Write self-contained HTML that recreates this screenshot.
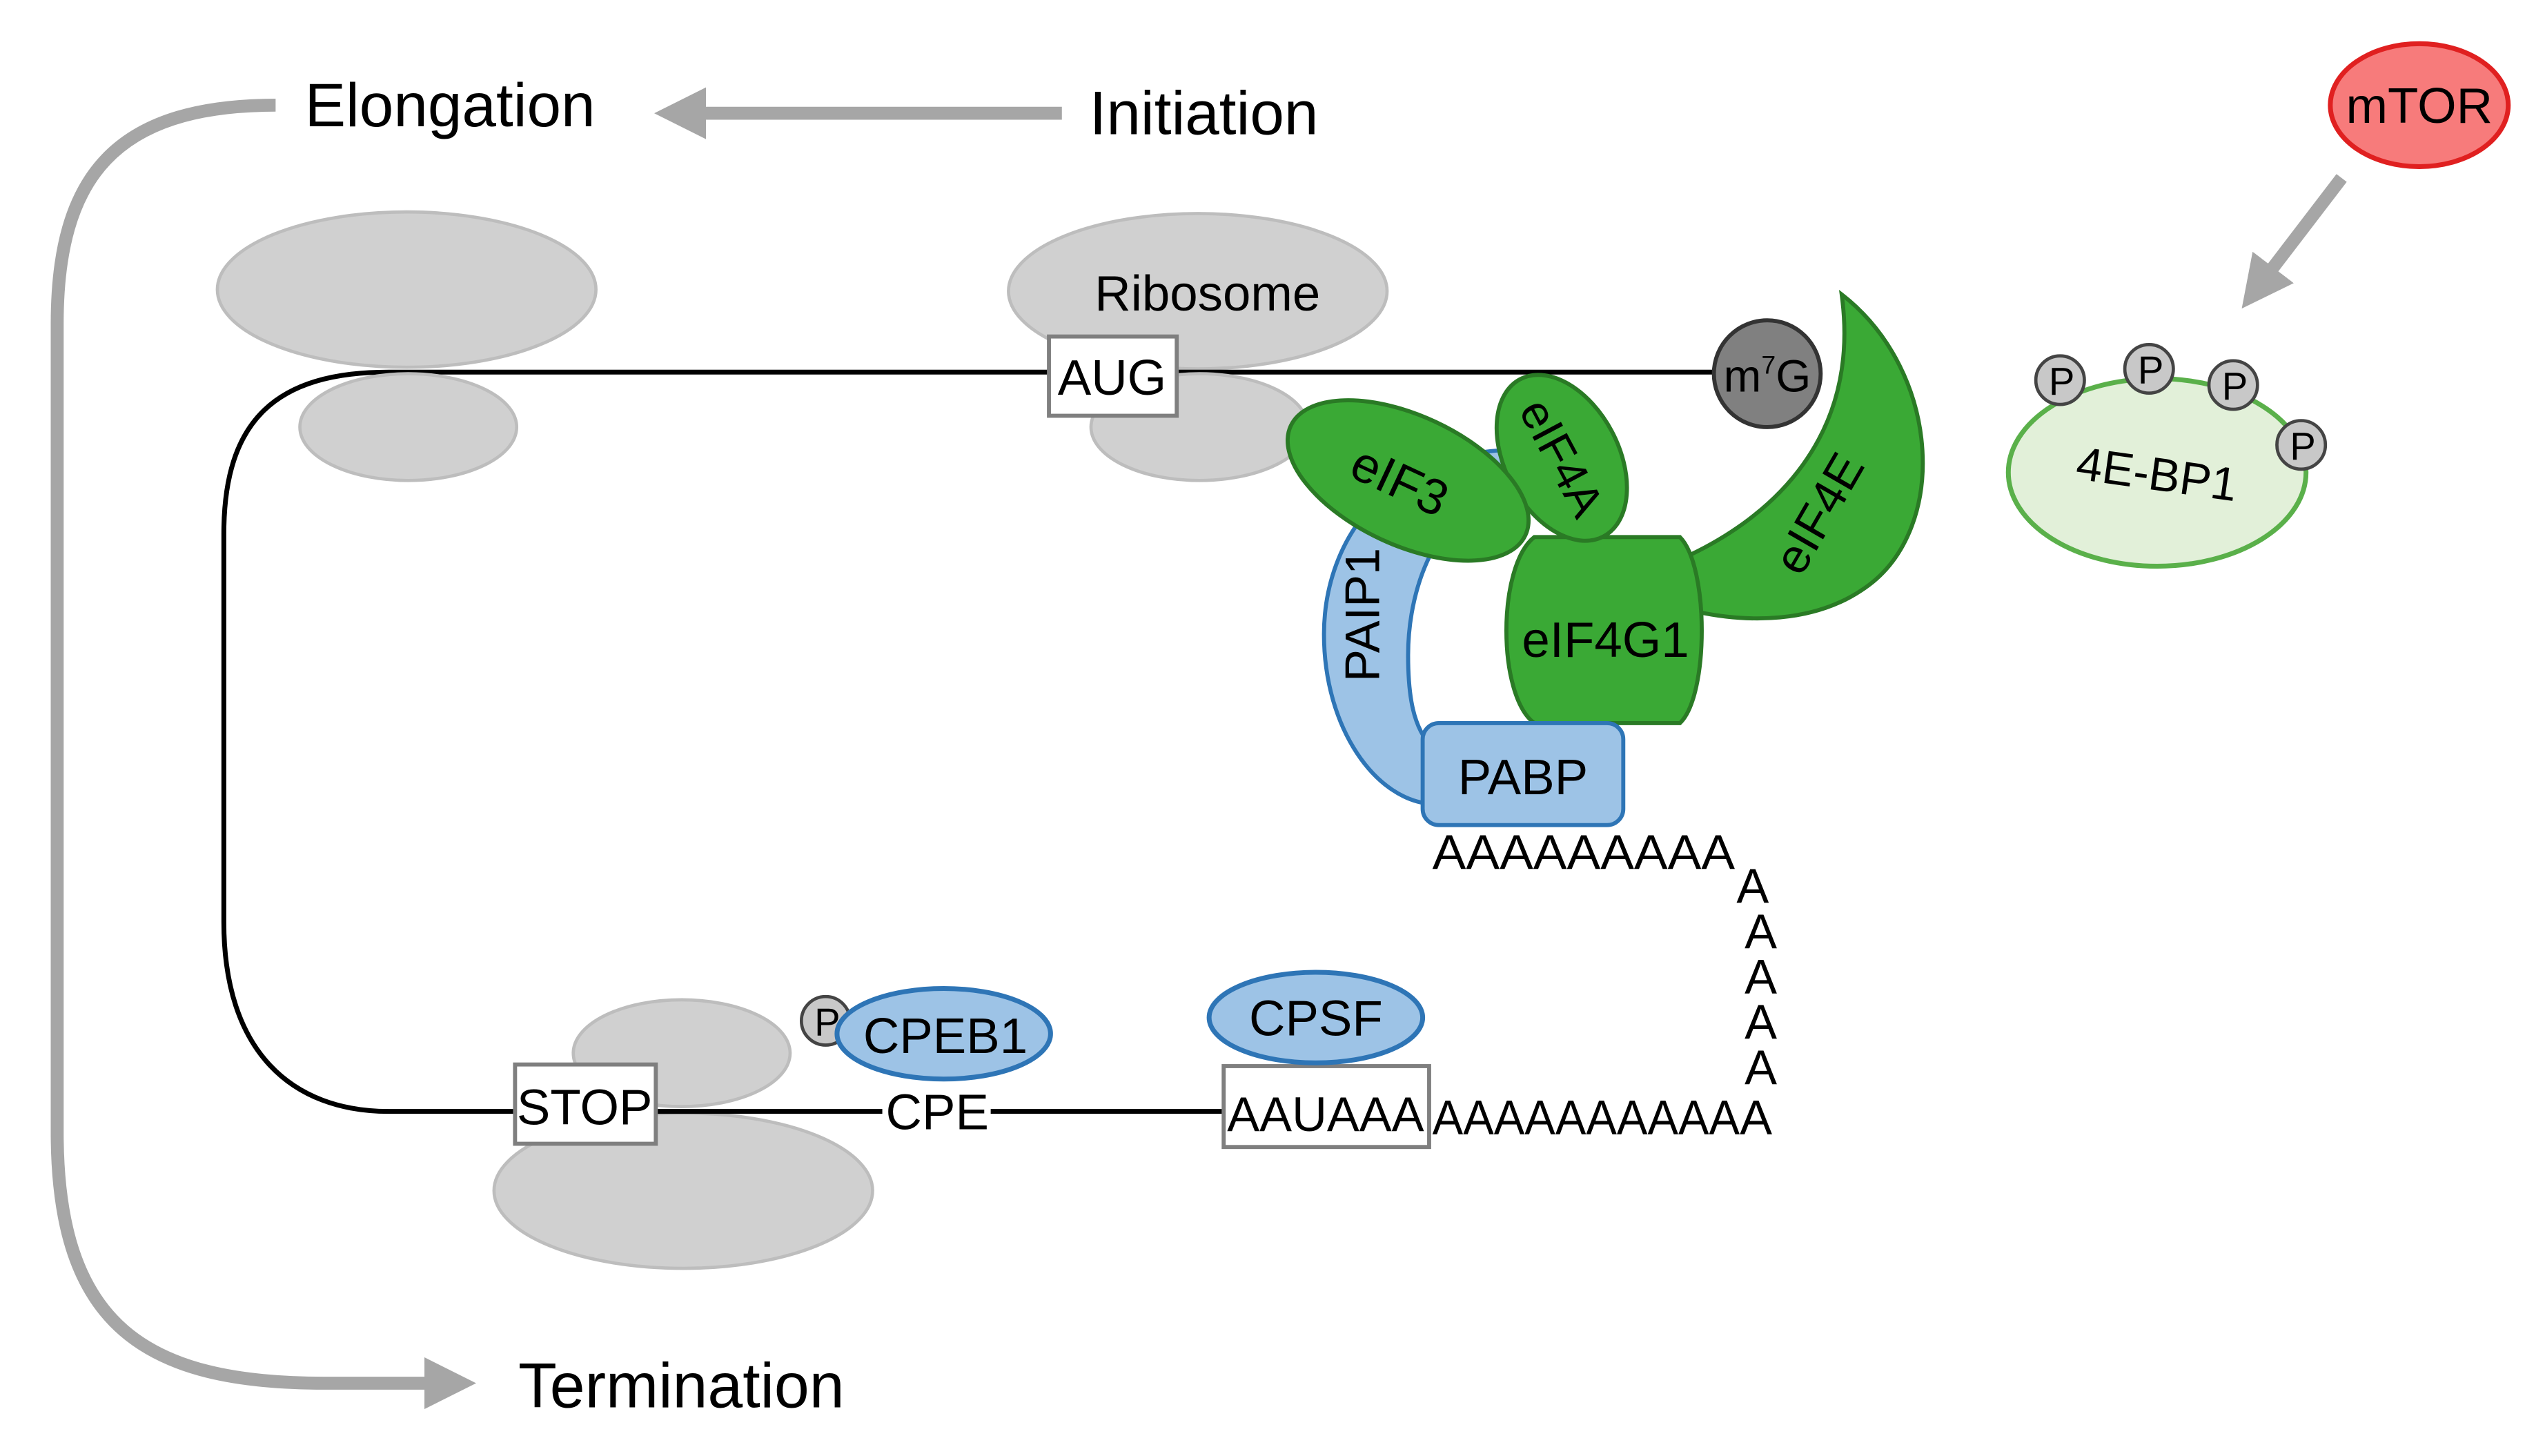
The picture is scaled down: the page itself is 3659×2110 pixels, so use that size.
<!DOCTYPE html>
<html><head><meta charset="utf-8"><style>
html,body{margin:0;padding:0;background:#fff;}
svg{display:block;}
text{font-family:"Liberation Sans",sans-serif;fill:#000;}
</style></head><body>
<svg width="3659" height="2110" viewBox="0 0 1560 900" xmlns="http://www.w3.org/2000/svg">
<defs>
<marker id="ah" markerWidth="4" markerHeight="4" refX="2" refY="2" orient="auto" markerUnits="strokeWidth">
<path d="M0,0 L4,2 L0,4 Z" fill="#a6a6a6"/></marker>
</defs>
<rect width="1560" height="900" fill="#fff"/>
<line x1="656" y1="70" x2="420" y2="70" stroke="#a6a6a6" stroke-width="8" marker-end="url(#ah)"/>
<path d="M170,65 C70,65 35,110 35,200 L35,700 C35,820 90,855 200,855 L278,855" fill="none" stroke="#a6a6a6" stroke-width="8" marker-end="url(#ah)"/>
<line x1="1447" y1="110" x2="1395" y2="178" stroke="#a6a6a6" stroke-width="8" marker-end="url(#ah)"/>
<text x="188" y="78" font-size="38">Elongation</text>
<text x="673" y="83" font-size="38">Initiation</text>
<text x="320" y="870" font-size="39">Termination</text>
<ellipse cx="1495" cy="65" rx="55" ry="38" fill="#f77b7b" stroke="#e02020" stroke-width="3"/>
<text x="1495" y="76" font-size="31" text-anchor="middle">mTOR</text>
<ellipse cx="1333" cy="292" rx="92" ry="58" fill="#e2f0d9" stroke="#5ab04a" stroke-width="3"/>
<text x="1333" y="303" font-size="29" text-anchor="middle" transform="rotate(8 1333 292)">4E-BP1</text>
<g fill="#c8c8c8" stroke="#444" stroke-width="2">
<circle cx="1273" cy="235" r="15"/><circle cx="1328" cy="228" r="15"/><circle cx="1380" cy="238" r="15"/><circle cx="1422" cy="275" r="15"/>
<circle cx="510" cy="631" r="15"/></g>
<g font-size="24" text-anchor="middle">
<text x="1274" y="244">P</text><text x="1329" y="237">P</text><text x="1381" y="247">P</text><text x="1423" y="284">P</text><text x="511" y="640">P</text></g>
<g fill="#d0d0d0" stroke="#bdbdbd" stroke-width="2">
<ellipse cx="251" cy="179" rx="117" ry="48"/>
<ellipse cx="740" cy="180" rx="117" ry="48"/>
<ellipse cx="422" cy="736" rx="117" ry="48"/>
</g>
<path d="M1062,230 L240,230 C170,230 138,260 138,330 L138,570 C138,650 180,687 240,687 L545,687 M612,687 L757,687" fill="none" stroke="#000" stroke-width="3"/>
<g fill="#d0d0d0" stroke="#bdbdbd" stroke-width="2">
<ellipse cx="252" cy="264" rx="67" ry="33"/>
<ellipse cx="741" cy="264" rx="67" ry="33"/>
<ellipse cx="421" cy="651" rx="67" ry="33"/>
</g>
<text x="746" y="192" font-size="31" text-anchor="middle">Ribosome</text>
<g fill="#fff" stroke="#7f7f7f" stroke-width="2.5">
<rect x="648" y="208" width="79" height="49"/>
<rect x="318" y="658" width="87" height="49"/>
<rect x="756" y="659" width="127" height="50"/>
</g>
<text x="687" y="244" font-size="31" text-anchor="middle">AUG</text>
<text x="361" y="695" font-size="31" text-anchor="middle">STOP</text>
<text x="819" y="699" font-size="30" text-anchor="middle">AAUAAA</text>
<text x="579" y="698" font-size="31" text-anchor="middle">CPE</text>
<ellipse cx="813" cy="629" rx="66" ry="28" fill="#9dc3e6" stroke="#2e75b6" stroke-width="3"/>
<text x="813" y="640" font-size="31" text-anchor="middle">CPSF</text>
<ellipse cx="583" cy="639" rx="66" ry="28" fill="#9dc3e6" stroke="#2e75b6" stroke-width="3"/>
<text x="584" y="651" font-size="31" text-anchor="middle">CPEB1</text>
<g font-size="30">
<text x="885" y="537" textLength="187" lengthAdjust="spacingAndGlyphs">AAAAAAAAA</text>
<text x="885" y="701" textLength="190" lengthAdjust="spacingAndGlyphs">AAAAAAAAAA</text>
<g text-anchor="middle">
<text x="1083" y="558">A</text><text x="1088" y="586">A</text><text x="1088" y="614">A</text><text x="1088" y="642">A</text><text x="1088" y="670">A</text><text x="1085" y="701">A</text></g>
</g>
<circle cx="1092" cy="231" r="33" fill="#808080" stroke="#333" stroke-width="2.5"/>
<text x="1092" y="242" font-size="28" text-anchor="middle">m<tspan font-size="16" dy="-11">7</tspan><tspan dy="11">G</tspan></text>
<path d="M935,278 C850,280 818,340 818,392 C818,450 850,495 885,497 L885,462 C873,450 870,430 870,405 C870,360 890,310 935,300 Z" fill="#9dc3e6" stroke="#2e75b6" stroke-width="2.5"/>
<text x="862" y="390" font-size="30" text-anchor="middle" transform="rotate(-90 852 390)">PAIP1</text>
<path d="M1138,182 C1200,230 1205,330 1150,365 C1120,385 1080,385 1048,378 L1040,345 C1095,320 1150,270 1138,182 Z" fill="#3aa935" stroke="#2a7a25" stroke-width="2.5"/>
<text x="1125" y="327" font-size="30" text-anchor="middle" transform="rotate(-60 1125 318)">eIF4E</text>
<path d="M948,332 L1038,332 C1056,350 1056,430 1038,447 L948,447 C925,430 925,350 948,332 Z" fill="#3aa935" stroke="#2a7a25" stroke-width="2.5"/>
<text x="992" y="406" font-size="31" text-anchor="middle">eIF4G1</text>
<ellipse cx="965" cy="283" rx="35" ry="55" transform="rotate(-28 965 283)" fill="#3aa935" stroke="#2a7a25" stroke-width="2.5"/>
<text x="965" y="293" font-size="29" text-anchor="middle" transform="rotate(62 965 283)">eIF4A</text>
<ellipse cx="870" cy="297" rx="80" ry="40" transform="rotate(25 870 297)" fill="#3aa935" stroke="#2a7a25" stroke-width="2.5"/>
<text x="865" y="308" font-size="31" text-anchor="middle" transform="rotate(25 865 297)">eIF3</text>
<rect x="879" y="447" width="124" height="63" rx="10" fill="#9dc3e6" stroke="#2e75b6" stroke-width="2.5"/>
<text x="941" y="491" font-size="31" text-anchor="middle">PABP</text>
</svg>
</body></html>
